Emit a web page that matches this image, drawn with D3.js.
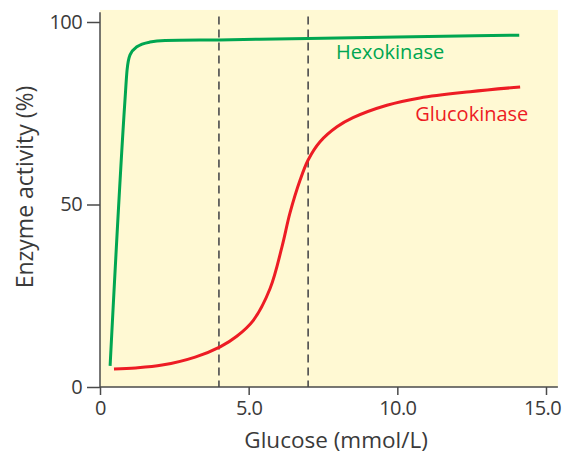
<!DOCTYPE html>
<html>
<head>
<meta charset="utf-8">
<script src="https://cdn.jsdelivr.net/npm/d3@7"></script>
<style>
    body { margin: 0; background: #fff; }
    text { font-family: "Open Sans", sans-serif; fill: #3a3a3a; }
</style>
</head>
<body>
<svg id="chart" width="563" height="456"></svg>
<script>
// values
const hexoGlucose = [0.34, 0.84, 0.91, 1.01, 1.24, 1.68, 2.19, 4.0, 7.0, 10.0, 14.1];
const hexoActivity = [5.8, 78.6, 86.8, 91.0, 93.2, 94.5, 94.9, 95.1, 95.5, 95.9, 96.4];

const glucoGlucose = [0.47, 1.2, 2.09, 3.2, 4.04, 4.6, 5.15, 5.72, 6.12, 6.39, 6.73, 7.0, 7.4, 7.97, 8.51, 9.65, 10.76, 12.45, 14.13];
const glucoActivity = [4.9, 5.2, 6.0, 8.2, 11.0, 13.9, 18.2, 27.0, 38.4, 47.7, 56.7, 62.2, 67.2, 71.3, 73.8, 77.2, 79.2, 80.9, 82.2];

const thresholds = [4.0, 7.0];
const xTicks = [0, 5, 10, 15];
const yTicks = [0, 50, 100];

const svg = d3.select('#chart');

const x = d3.scaleLinear().domain([0, 15]).range([100, 546]);
const y = d3.scaleLinear().domain([0, 100]).range([387, 22]);

const yTop = y(102.7);
const xRight = x(15.4);

// plot background
svg.append('rect')
    .attr('x', x(0))
    .attr('y', y(103.3))
    .attr('width', xRight - x(0))
    .attr('height', y(0) - y(103.3))
    .attr('fill', '#fff9d3');

// dashed threshold lines
svg.selectAll('.thresh')
    .data(thresholds)
    .enter()
    .append('line')
    .attr('class', 'thresh')
    .attr('x1', d => x(d))
    .attr('x2', d => x(d))
    .attr('y1', y(101.5))
    .attr('y2', y(0))
    .attr('stroke', '#555')
    .attr('stroke-width', 1.7)
    .attr('stroke-dasharray', '8,5');

// axes
const xAxis = svg.append('g')
    .attr('transform', `translate(0,${y(0)})`)
    .call(d3.axisBottom(x).tickValues(xTicks).tickSize(8).tickPadding(6)
        .tickFormat(d => d === 0 ? '0' : d3.format('.1f')(d)));

const yAxis = svg.append('g')
    .attr('transform', `translate(${x(0)},0)`)
    .call(d3.axisLeft(y).tickValues(yTicks).tickSize(13).tickPadding(5));

[xAxis, yAxis].forEach(g => {
    g.select('.domain').remove();
    g.selectAll('line').attr('stroke', '#4a4a4a').attr('stroke-width', 1.5);
    g.selectAll('text')
        .attr('font-size', 20)
        .attr('letter-spacing', -0.6)
        .attr('fill', '#3a3a3a')
        .attr('font-family', '"Open Sans", sans-serif');
});

// last x label sits a bit left of its tick, as in the original
xAxis.selectAll('.tick text').filter(d => d === 15).attr('dx', -4);

// axis lines
svg.append('line')
    .attr('x1', x(0)).attr('x2', xRight)
    .attr('y1', y(0)).attr('y2', y(0))
    .attr('stroke', '#4a4a4a').attr('stroke-width', 1.5);
svg.append('line')
    .attr('x1', x(0)).attr('x2', x(0))
    .attr('y1', yTop).attr('y2', y(0))
    .attr('stroke', '#4a4a4a').attr('stroke-width', 1.5);

// curves
const hexoLine = d3.line()
    .x(d => x(d[0]))
    .y(d => y(d[1]))
    .curve(d3.curveMonotoneX);

const glucoLine = d3.line()
    .x(d => x(d[0]))
    .y(d => y(d[1]))
    .curve(d3.curveCatmullRom.alpha(0.5));

const hexo = hexoGlucose.map((g, i) => [g, hexoActivity[i]]);
const gluco = glucoGlucose.map((g, i) => [g, glucoActivity[i]]);

svg.append('path')
    .datum(hexo)
    .attr('d', hexoLine)
    .attr('fill', 'none')
    .attr('stroke', '#00a651')
    .attr('stroke-width', 3);

svg.append('path')
    .datum(gluco)
    .attr('d', glucoLine)
    .attr('fill', 'none')
    .attr('stroke', '#ed1c24')
    .attr('stroke-width', 3);

// series labels
svg.append('text')
    .attr('x', x(7.94))
    .attr('y', y(89.9))
    .attr('font-size', 20)
    .style('fill', '#00a651')
    .text('Hexokinase');

svg.append('text')
    .attr('x', x(10.6))
    .attr('y', y(72.9))
    .attr('font-size', 20)
    .style('fill', '#ed1c24')
    .text('Glucokinase');

// axis titles
svg.append('text')
    .attr('x', x(7.94))
    .attr('y', 448)
    .attr('text-anchor', 'middle')
    .attr('font-size', 22.5)
    .text('Glucose (mmol/L)');

svg.append('text')
    .attr('transform', `translate(33,${y(54.8)}) rotate(-90)`)
    .attr('text-anchor', 'middle')
    .attr('font-size', 23)
    .text('Enzyme activity (%)');
</script>
</body>
</html>
